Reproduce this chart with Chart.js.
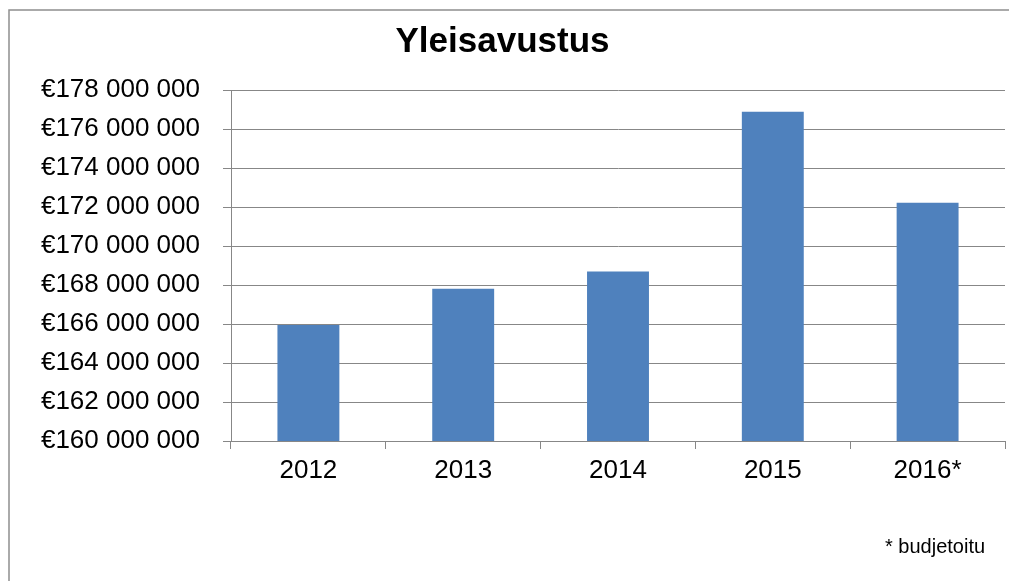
<!DOCTYPE html>
<html>
<head>
<meta charset="utf-8">
<script src="https://cdn.jsdelivr.net/npm/chart.js@4"></script>
<style>
  body { margin: 0; background: #fff; }
  #wrap { width: 1009px; height: 581px; position: relative; }
</style>
</head>
<body>
<div id="wrap"><canvas id="yleisChart"></canvas></div>
<script>
    // Vuodet ja yleisavustuksen määrät (euroa)
    const vuodet = ['2012', '2013', '2014', '2015', '2016*'];
    const yleisavustus = [165950000, 167810000, 168690000, 176890000, 172220000];
    const akseliMin = 160000000;
    const akseliMax = 178000000;
    const akseliVali = 2000000;
    const otsikko = 'Yleisavustus';
    const alaviite = '* budjetoitu';

    const fontti = '"Liberation Sans", Arial, sans-serif';
    const harmaa = '#878787';

    // Euromuotoilu välilyönneillä: €178 000 000
    function euro(arvo) {
        return '€' + String(arvo).replace(/\B(?=(\d{3})+(?!\d))/g, ' ');
    }

    // Kehys ja alaviite
    const kehysPlugin = {
        id: 'kehys',
        afterDraw(chart) {
            const ctx = chart.ctx;
            ctx.save();
            ctx.strokeStyle = '#8f8f8f';
            ctx.lineWidth = 1.5;
            ctx.strokeRect(9, 10, 1100, 1000);
            ctx.fillStyle = '#000';
            ctx.font = '20px ' + fontti;
            ctx.textBaseline = 'alphabetic';
            ctx.textAlign = 'left';
            ctx.fillText(alaviite, 885, 553);
            ctx.restore();
        }
    };

    const ctx = document.getElementById('yleisChart').getContext('2d');
    new Chart(ctx, {
        type: 'bar',
        data: {
            labels: vuodet,
            datasets: [{
                label: otsikko,
                data: yleisavustus,
                backgroundColor: '#4f81bd',
                borderWidth: 0,
                barPercentage: 0.4,
                categoryPercentage: 1
            }]
        },
        options: {
            responsive: true,
            maintainAspectRatio: false,
            animation: false,
            layout: { padding: { left: 0, right: 4, top: 0, bottom: 0 } },
            plugins: {
                legend: { display: false },
                tooltip: { enabled: false },
                title: {
                    display: true,
                    text: otsikko,
                    color: '#000',
                    font: { family: fontti, size: 35, weight: 'bold', lineHeight: 1.2 },
                    padding: { top: 21, bottom: 27 }
                }
            },
            scales: {
                x: {
                    grid: {
                        drawOnChartArea: false,
                        drawTicks: true,
                        tickLength: 8,
                        color: harmaa,
                        lineWidth: 1
                    },
                    border: { color: harmaa, width: 1 },
                    ticks: {
                        color: '#000',
                        font: { family: fontti, size: 26 },
                        padding: 6,
                        maxRotation: 0
                    },
                    afterFit(scale) { scale.height = 140; }
                },
                y: {
                    min: akseliMin,
                    max: akseliMax,
                    grid: {
                        color: harmaa,
                        lineWidth: 1,
                        tickLength: 8
                    },
                    border: { color: harmaa, width: 1 },
                    ticks: {
                        stepSize: akseliVali,
                        color: '#000',
                        font: { family: fontti, size: 26 },
                        padding: 23,
                        callback: function(arvo) { return euro(arvo); }
                    },
                    afterFit(scale) { scale.width = 231; }
                }
            }
        },
        plugins: [kehysPlugin]
    });
</script>
</body>
</html>
